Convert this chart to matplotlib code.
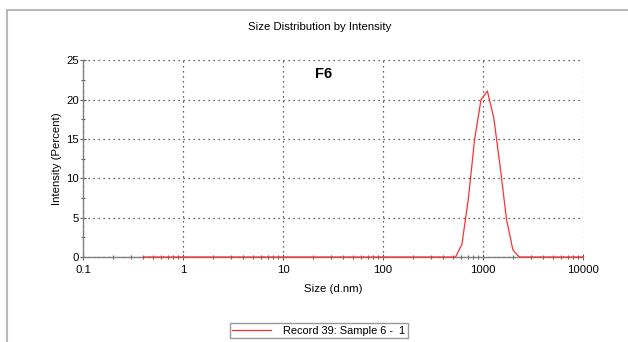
import matplotlib
matplotlib.use("Agg")
import matplotlib.pyplot as plt
from matplotlib.patches import Rectangle
from matplotlib.ticker import LogLocator, MultipleLocator, FixedLocator, FixedFormatter

plt.rcParams['font.family'] = ['Liberation Sans', 'DejaVu Sans']

sizes = [0.4, 0.4632, 0.5365, 0.6213, 0.7195, 0.8332, 0.9649, 1.117, 1.294, 1.499,
         1.736, 2.01, 2.328, 2.696, 3.122, 3.615, 4.187, 4.849, 5.615, 6.503,
         7.531, 8.721, 10.1, 11.7, 13.54, 15.69, 18.17, 21.04, 24.36, 28.21,
         32.67, 37.84, 43.82, 50.75, 58.77, 68.06, 78.82, 91.28, 105.7, 122.4,
         141.8, 164.2, 190.1, 220.2, 255.0, 295.3, 342.0, 396.1, 458.7, 531.2,
         615.1, 712.4, 825.0, 955.4, 1106, 1281, 1484, 1718, 1990, 2305,
         2669, 3091, 3580, 4145, 4801, 5560, 6439, 7456, 8635, 10000]
intensity = [0]*50 + [1.6, 7.3, 15.0, 20.0, 21.1, 17.7, 11.5, 4.8, 0.9] + [0]*11

x_ticks = [0.1, 1, 10, 100, 1000, 10000]
x_labels = ['0.1', '1', '10', '100', '1000', '10000']
y_ticks = [0, 5, 10, 15, 20, 25]

fig = plt.figure(figsize=(6.28, 3.42), dpi=100)
fig.patches.append(Rectangle((7/628, -0.1), 1.2, 1 - 10/342 + 0.1, transform=fig.transFigure,
                             fill=False, edgecolor='#b8b8b8', linewidth=1.5))
ax = fig.add_axes([83/628, 1 - 257/342, 500/628, (257 - 60.3)/342])

ax.plot(sizes, intensity, color='#ff3030', linewidth=0.9, clip_on=False, zorder=5,
        label='Record 39: Sample 6 -  1')
ax.set_xscale('log')
ax.set_xlim(0.1, 10000)
ax.set_ylim(0, 25)

ax.xaxis.set_major_locator(FixedLocator(x_ticks))
ax.xaxis.set_major_formatter(FixedFormatter(x_labels))
ax.xaxis.set_minor_locator(LogLocator(base=10, subs=range(2, 10), numticks=20))
ax.yaxis.set_major_locator(FixedLocator(y_ticks))
ax.yaxis.set_minor_locator(MultipleLocator(2.5))

for s in ['top', 'right']:
    ax.spines[s].set_visible(False)
for s in ['left', 'bottom']:
    ax.spines[s].set_color('#808080')
    ax.spines[s].set_linewidth(1.0)

ax.tick_params(which='major', direction='inout', length=5, width=0.8, color='#606060',
               labelsize=8.2, pad=3)
ax.tick_params(axis='y', which='major', pad=0.5)
ax.tick_params(which='minor', direction='inout', length=3, width=0.8, color='#606060')
ax.grid(True, which='major', linestyle=(0, (1, 3)), color='#303030', linewidth=0.9)
ax.set_axisbelow(True)

ax.set_xlabel('Size (d.nm)', fontsize=8.2, labelpad=7)
ax.set_ylabel('Intensity (Percent)', fontsize=8.2, labelpad=3)

fig.text(320/628, 1 - 27/342, 'Size Distribution by Intensity', ha='center', va='center', fontsize=8.2)
fig.text(323.5/628, 1 - 74/342, 'F6', ha='center', va='center', fontsize=10.5, fontweight='bold')

leg = fig.legend(loc='center', bbox_to_anchor=(319/628, 1 - 330.5/342), fontsize=7.9,
                 frameon=True, fancybox=False, edgecolor='#808080', borderpad=0.25,
                 handlelength=3.5, handletextpad=1.15, borderaxespad=0)
leg.get_frame().set_linewidth(1.0)

fig.savefig('out.png', dpi=100)
